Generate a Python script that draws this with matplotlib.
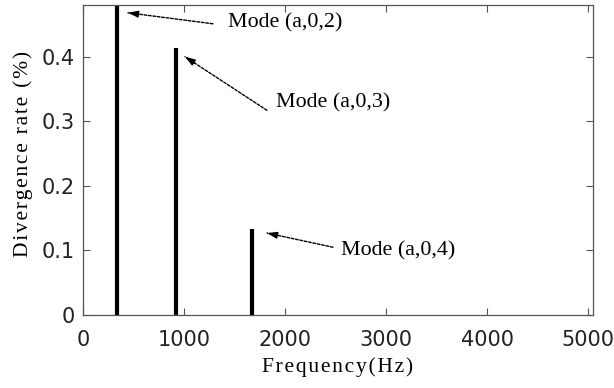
import matplotlib
matplotlib.use("Agg")
import matplotlib.pyplot as plt

# Data
freqs = [336, 921, 1673]
rates = [0.48, 0.414, 0.133]
labels = ["Mode (a,0,2)", "Mode (a,0,3)", "Mode (a,0,4)"]
arrow_heads = [(446, 0.468), (1010, 0.400), (1822, 0.127)]
arrow_tails = [(1287, 0.451), (1822, 0.317), (2475, 0.105)]
text_pos = [(1436, 0.453), (1911, 0.328), (2554, 0.100)]
xticks = [0, 1000, 2000, 3000, 4000, 5000]
yticks = [0, 0.1, 0.2, 0.3, 0.4]

fig = plt.figure(figsize=(6.14, 3.88), dpi=100)
ax = fig.add_axes([0.135, 0.188, 0.831, 0.799])

ax.vlines(freqs, 0, rates, colors="black", linewidth=3)

serif = "Liberation Serif"
for (hx, hy), (tx, ty), (lx, ly), lab in zip(arrow_heads, arrow_tails, text_pos, labels):
    ax.annotate("", xy=(hx, hy), xytext=(tx, ty),
                arrowprops=dict(arrowstyle="-", linestyle=(0, (2, 1.2)), lw=1, color="black",
                                shrinkA=0, shrinkB=0))
    nx = hx + 0.12 * (tx - hx)
    ny = hy + 0.12 * (ty - hy)
    ax.annotate("", xy=(hx, hy), xytext=(nx, ny),
                arrowprops=dict(arrowstyle="-|>,head_length=0.6,head_width=0.2", lw=1,
                                color="black", shrinkA=0, shrinkB=0))
    ax.text(lx, ly, lab, fontsize=15.8, family=serif, va="center", ha="left")

ax.set_xlim(0, 5050)
ax.set_ylim(0, 0.48)
ax.set_xticks(xticks)
ax.set_xticklabels([str(x) for x in xticks])
ax.set_yticks(yticks)
ax.set_yticklabels(["0", "0.1", "0.2", "0.3", "0.4"])
ax.tick_params(direction="in", top=True, right=True, length=5, width=0.8, color="#555555",
               labelsize=15, labelcolor="#222222")
ax.tick_params(axis="x", pad=11)
ax.tick_params(axis="y", pad=6)
for s in ax.spines.values():
    s.set_color("#555555")
    s.set_linewidth(0.9)

hs = "\u200a"
xlab = hs.join("Frequency(Hz)")
ylab = hs.join("Divergence") + hs + " " + hs + hs.join("rate") + hs + " " + hs + hs.join("(%)")
ax.set_xlabel(xlab, fontsize=15.5, family=serif, labelpad=5)
ax.set_ylabel(ylab, fontsize=15.5, family=serif, labelpad=4)
ax.yaxis.set_label_coords(-0.098, 0.52)

fig.savefig("out.png", dpi=100)
